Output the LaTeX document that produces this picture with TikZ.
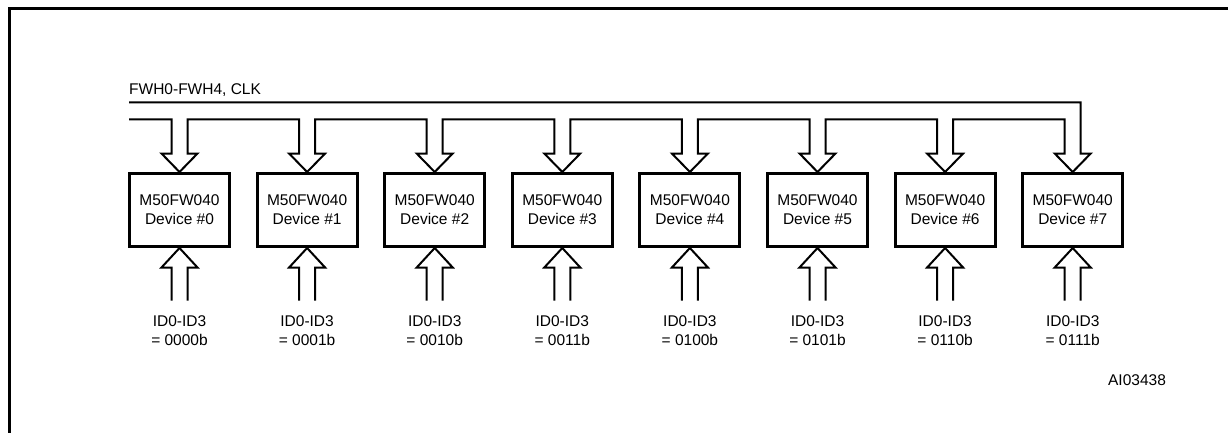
\documentclass[tikz,border=0pt]{standalone}
\usepackage{fontspec}
\setmainfont{Liberation Sans}
\usetikzlibrary{calc,positioning}

\begin{document}
\begin{tikzpicture}[x=1pt,y=1pt,node distance=127.6pt,
    device/.style={draw,line width=3pt,minimum width=100pt,minimum height=73pt,inner sep=0pt,align=center,font=\fontsize{15.5}{19}\selectfont},
    idlabel/.style={inner sep=0pt,align=center,font=\fontsize{15.5}{19}\selectfont},
    bus/.style={line width=2pt,line join=miter}]

                \useasboundingbox (0,0) rectangle (1228,-433);
                \draw[line width=3pt] (9,-433) -- (9,-9) -- (1228,-9);

                \node[device] (0) at (179.5,-210) {M50FW040\\Device \#0};
                \node[device] (1) [right of = 0] {M50FW040\\Device \#1};
                \node[device] (2) [right of = 1] {M50FW040\\Device \#2};
                \node[device] (3) [right of = 2] {M50FW040\\Device \#3};
                \node[device] (4) [right of = 3] {M50FW040\\Device \#4};
                \node[device] (5) [right of = 4] {M50FW040\\Device \#5};
                \node[device] (6) [right of = 5] {M50FW040\\Device \#6};
                \node[device] (7) [right of = 6] {M50FW040\\Device \#7};

                \node[idlabel] (i0) [below of = 0, node distance=120.5pt] {ID0-ID3\\= 0000b};
                \node[idlabel] (i1) [below of = 1, node distance=120.5pt] {ID0-ID3\\= 0001b};
                \node[idlabel] (i2) [below of = 2, node distance=120.5pt] {ID0-ID3\\= 0010b};
                \node[idlabel] (i3) [below of = 3, node distance=120.5pt] {ID0-ID3\\= 0011b};
                \node[idlabel] (i4) [below of = 4, node distance=120.5pt] {ID0-ID3\\= 0100b};
                \node[idlabel] (i5) [below of = 5, node distance=120.5pt] {ID0-ID3\\= 0101b};
                \node[idlabel] (i6) [below of = 6, node distance=120.5pt] {ID0-ID3\\= 0110b};
                \node[idlabel] (i7) [below of = 7, node distance=120.5pt] {ID0-ID3\\= 0111b};

                % bus ends
                \coordinate (busin) at ($(0.north)+(-50.5,52.5)$);
                \coordinate (busout) at ($(0.north)+(-50.5,69.5)$);
                \node[idlabel, anchor=base west] (fwh) at ($(busout)+(0,7.5)$) {FWH0-FWH4, CLK};

                % hollow bus arrows into the devices
                \draw[bus] (busin)
                    \foreach \i in {0,...,7}{
                        -- ($(\i.north)+(-8,52.5)$) -- ($(\i.north)+(-8,18.5)$)
                        -- ($(\i.north)+(-18,18.5)$) -- (\i.north)
                        -- ($(\i.north)+(18,18.5)$) -- ($(\i.north)+(8,18.5)$)
                        -- ($(\i.north)+(8,52.5)$)}
                    -- ($(7.north)+(8,69.5)$) -- (busout);

                % ID inputs
                \foreach \i in {0,...,7}
                    \draw[bus] ($(\i.south)+(-8,-52.5)$) -- ($(\i.south)+(-8,-19.5)$)
                        -- ($(\i.south)+(-18,-19.5)$) -- (\i.south)
                        -- ($(\i.south)+(18,-19.5)$) -- ($(\i.south)+(8,-19.5)$)
                        -- ($(\i.south)+(8,-52.5)$);

                \node[idlabel] (ai) at (1137,-380) {AI03438};
\end{tikzpicture}
\end{document}
